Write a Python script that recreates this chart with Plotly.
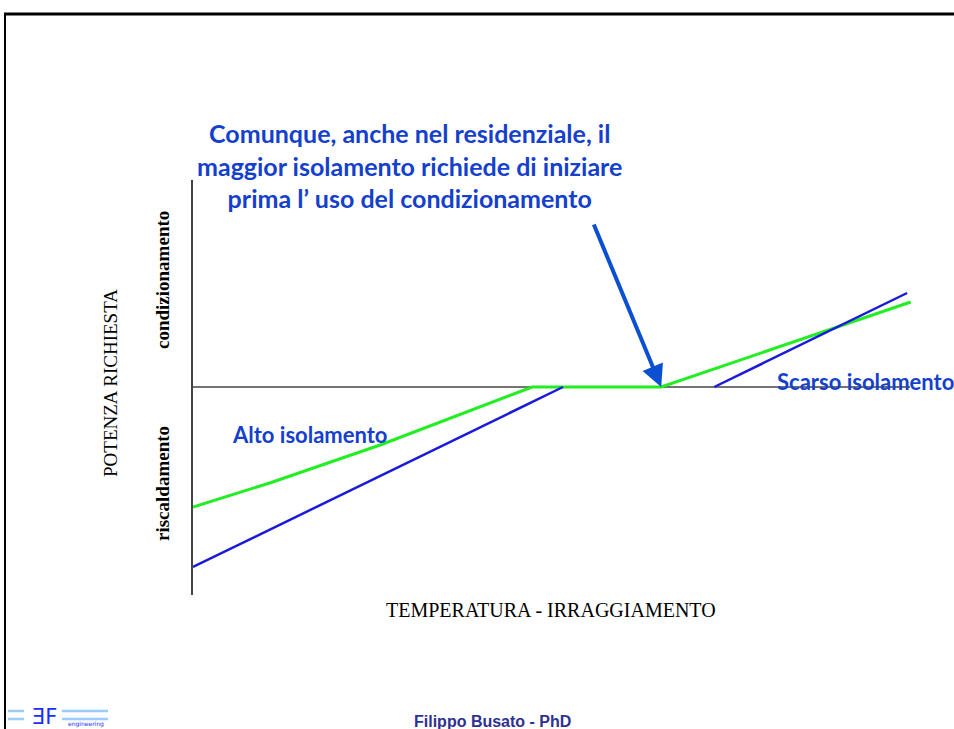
"""
Grafico: potenza richiesta (riscaldamento / condizionamento) in funzione
di temperatura e irraggiamento, per edificio ad alto e scarso isolamento.
"""
import plotly.graph_objects as go

# Dati (unità arbitrarie)
# Alto isolamento (verde)
alto_x: list[float] = [0, 10.7, 26.1, 47.3, 65.3, 100.1]
alto_y: list[float] = [-60, -48, -29, 0, 0, 42.5]
# Scarso isolamento (blu): ramo riscaldamento e ramo condizionamento
scarso_risc_x: list[float] = [0, 51.6]
scarso_risc_y: list[float] = [-90, 0]
scarso_cond_x: list[float] = [72.7, 99.6]
scarso_cond_y: list[float] = [0, 47]

# Dimensioni pagina / area grafico (pixel)
W, H = 954, 729
L, R, T, B = 193, 954, 180, 595


def px(x: float) -> float:
	""" Coordinata pixel orizzontale -> paper """
	return (x - L) / (R - L)


def py(y: float) -> float:
	""" Coordinata pixel verticale -> paper """
	return (B - y) / (B - T)


def testo(x, y, text, font, **kw) -> None:
	""" Annotazione in coordinate pixel, centrata """
	fig.add_annotation(xref="paper", yref="paper", x=px(x), y=py(y), text=text,
		showarrow=False, xanchor=kw.pop("xanchor", "center"), yanchor="middle",
		font=font, **kw)


BLU_TESTO = "#1440cc"

fig = go.Figure()
fig.add_trace(go.Scatter(x=alto_x, y=alto_y, mode="lines",
	line=dict(color="#22ee22", width=3), hoverinfo="skip", showlegend=False))
fig.add_trace(go.Scatter(x=scarso_risc_x, y=scarso_risc_y, mode="lines",
	line=dict(color="#1a1add", width=2.5), hoverinfo="skip", showlegend=False))
fig.add_trace(go.Scatter(x=scarso_cond_x, y=scarso_cond_y, mode="lines",
	line=dict(color="#1a1add", width=2.5), hoverinfo="skip", showlegend=False))

# Asse orizzontale (potenza nulla)
fig.add_shape(type="line", x0=0, x1=100, y0=0, y1=0,
	line=dict(color="#444444", width=1.5), layer="below")

# Cornice della slide
fig.add_shape(type="line", xref="paper", yref="paper",
	x0=px(4), x1=px(954), y0=py(14), y1=py(14), line=dict(color="black", width=3))
fig.add_shape(type="line", xref="paper", yref="paper",
	x0=px(5), x1=px(5), y0=py(13), y1=py(729), line=dict(color="black", width=2))

# Freccia (coda a 593,223 px, punta a 661,387 px)
fig.add_annotation(x=alto_x[4], y=0, ax=593 - 661, ay=223 - 387,
	axref="pixel", ayref="pixel", xref="x", yref="y", text="", showarrow=True,
	arrowhead=2, arrowsize=1.1, arrowwidth=4, arrowcolor="#0a50d0")

# Testi
testo(409, 165,
	"Comunque, anche nel residenziale, il<br>maggior isolamento richiede di iniziare<br>prima l\u2019 uso del condizionamento",
	dict(family="Lato", size=25, color=BLU_TESTO, weight="bold"), align="center")
testo(230, 434, "Alto isolamento",
	dict(family="Lato", size=22, color=BLU_TESTO, weight="bold"), xanchor="left")
testo(775, 381, "Scarso isolamento",
	dict(family="Lato", size=22, color=BLU_TESTO, weight="bold"), xanchor="left")

testo(110, 383, "POTENZA RICHIESTA",
	dict(family="Liberation Serif", size=19, color="black"), textangle=-90)
testo(162, 280, "condizionamento",
	dict(family="Liberation Serif", size=19, color="black", weight="bold"), textangle=-90)
testo(162, 484, "riscaldamento",
	dict(family="Liberation Serif", size=19, color="black", weight="bold"), textangle=-90)
testo(551, 610, "TEMPERATURA - IRRAGGIAMENTO",
	dict(family="Liberation Serif", size=20, color="black"))

# Piè di pagina
testo(492, 721, "Filippo Busato - PhD",
	dict(family="Liberation Sans", size=16, color="#2e3192", weight="bold"))

# Logo
for y_l in (711, 719):
	for x_a, x_b in ((8, 24), (62, 108)):
		fig.add_shape(type="line", xref="paper", yref="paper",
			x0=px(x_a), x1=px(x_b), y0=py(y_l), y1=py(y_l),
			line=dict(color="#99ccff", width=2.5))
testo(44, 717, "\u018eF", dict(family="DejaVu Sans", size=21, color="#1a2fff"))
testo(86, 724, "engineering", dict(family="DejaVu Sans", size=6, color="#1a2fff"))

fig.update_layout(
	width=W, height=H,
	margin=dict(l=L, r=W - R, t=T, b=H - B),
	paper_bgcolor="white", plot_bgcolor="white",
	xaxis=dict(range=[0, (R - L) / 7.17], showgrid=False, zeroline=False,
		showticklabels=False, ticks="", showline=False, fixedrange=True),
	yaxis=dict(range=[-104, 103.5], showgrid=False, zeroline=False,
		showticklabels=False, ticks="", showline=True, linecolor="#444444",
		linewidth=1.5, fixedrange=True),
)

# Pagina senza margine, come la slide originale
fig.write_html("out.html", config={"displayModeBar": False},
	post_script="document.body.style.margin='0';")
